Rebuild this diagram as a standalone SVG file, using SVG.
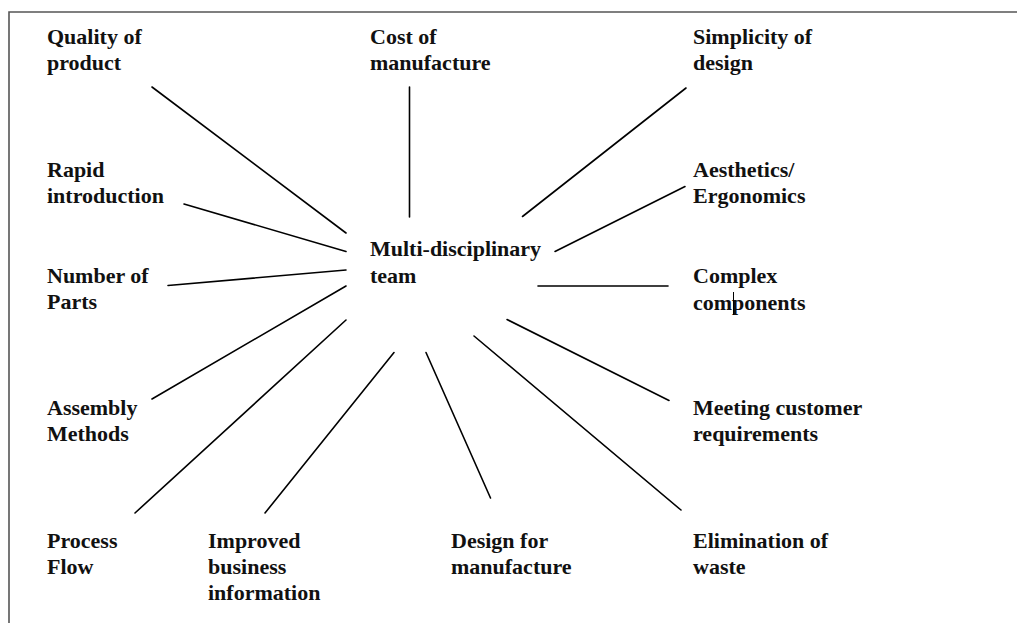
<svg xmlns="http://www.w3.org/2000/svg" width="1017" height="623" viewBox="0 0 1017 623">
<style>
.lbl{font-family:"Liberation Serif","Times New Roman",serif;font-weight:bold;font-size:22px;fill:#111}
.c{stroke:#000;stroke-width:1.6;fill:none;stroke-linecap:round}
.frame{stroke:#555;stroke-width:1.6;fill:none}
</style>
<rect width="1017" height="623" fill="#fff"/>
<path class="frame" d="M9 623 V12 H1017"/>
<g id="connectors">
<line class="c" x1="152" y1="87" x2="346" y2="233"/>
<line class="c" x1="409.5" y1="87" x2="409.5" y2="217"/>
<line class="c" x1="686" y1="88" x2="522.5" y2="216.5"/>
<line class="c" x1="184" y1="204" x2="346" y2="251.5"/>
<line class="c" x1="555" y1="251.5" x2="685" y2="186.5"/>
<line class="c" x1="168" y1="285.5" x2="346" y2="270"/>
<line class="c" x1="538" y1="286" x2="668" y2="286"/>
<line class="c" x1="152" y1="399" x2="346" y2="286"/>
<line class="c" x1="507" y1="319.5" x2="669" y2="400.5"/>
<line class="c" x1="135" y1="513" x2="346" y2="320"/>
<line class="c" x1="265" y1="513" x2="394" y2="352.5"/>
<line class="c" x1="490.5" y1="498" x2="426" y2="352.5"/>
<line class="c" x1="474" y1="336" x2="681" y2="510"/>
</g>
<g id="center"><text class="lbl" x="370" y="256">Multi-disciplinary<tspan x="370" y="283">team</tspan></text></g>
<g id="quality"><text class="lbl" x="47" y="44">Quality of<tspan x="47" y="70">product</tspan></text></g>
<g id="cost"><text class="lbl" x="370" y="44">Cost of<tspan x="370" y="70">manufacture</tspan></text></g>
<g id="simplicity"><text class="lbl" x="693" y="44">Simplicity of<tspan x="693" y="70">design</tspan></text></g>
<g id="rapid"><text class="lbl" x="47" y="177">Rapid<tspan x="47" y="203">introduction</tspan></text></g>
<g id="aesthetics"><text class="lbl" x="693" y="177">Aesthetics/<tspan x="693" y="203">Ergonomics</tspan></text></g>
<g id="parts"><text class="lbl" x="47" y="283">Number of<tspan x="47" y="309">Parts</tspan></text></g>
<g id="complex"><text class="lbl" x="693" y="283">Complex<tspan x="693" y="310">components</tspan></text><line x1="733.5" y1="292" x2="733.5" y2="315" stroke="#000" stroke-width="1"/></g>
<g id="assembly"><text class="lbl" x="47" y="415">Assembly<tspan x="47" y="441">Methods</tspan></text></g>
<g id="meeting"><text class="lbl" x="693" y="415">Meeting customer<tspan x="693" y="441">requirements</tspan></text></g>
<g id="process"><text class="lbl" x="47" y="548">Process<tspan x="47" y="574">Flow</tspan></text></g>
<g id="improved"><text class="lbl" x="208" y="548">Improved<tspan x="208" y="574">business</tspan><tspan x="208" y="600">information</tspan></text></g>
<g id="dfm"><text class="lbl" x="451" y="548">Design for<tspan x="451" y="574">manufacture</tspan></text></g>
<g id="waste"><text class="lbl" x="693" y="548">Elimination of<tspan x="693" y="574">waste</tspan></text></g>
</svg>
